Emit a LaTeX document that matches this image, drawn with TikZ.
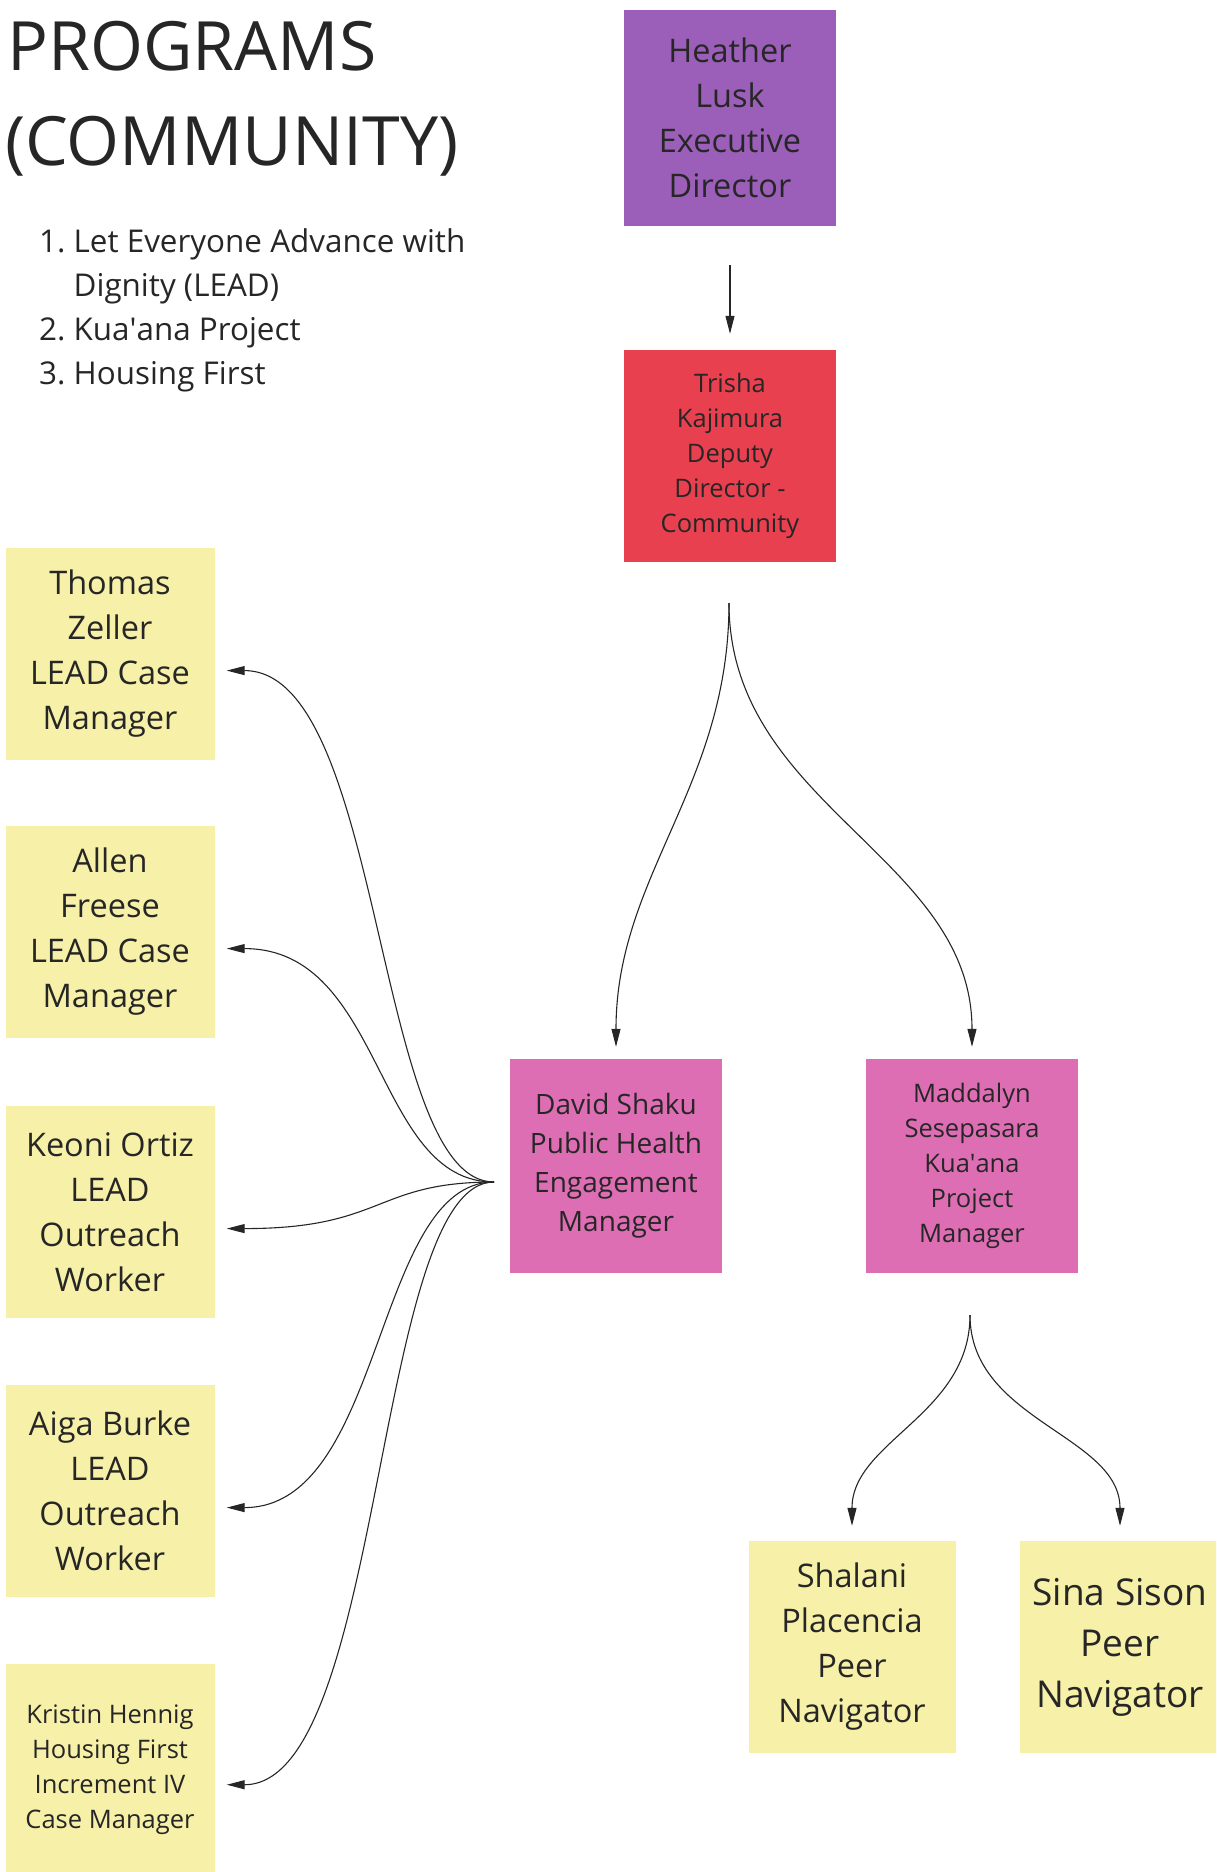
\documentclass[tikz,border=0pt]{standalone}
\usepackage{fontspec}
\setmainfont{Open Sans}
\usetikzlibrary{arrows.meta}
\definecolor{ink}{HTML}{262626}
\definecolor{execpurple}{HTML}{9B5FB9}
\definecolor{deputyred}{HTML}{E8404F}
\definecolor{mgrpink}{HTML}{DD6EB4}
\definecolor{staffyellow}{HTML}{F7F0A8}
\tikzset{
  card/.style={minimum width=212pt,minimum height=212pt,inner sep=0pt,align=center,text=ink},
  txtbig/.style={font=\fontsize{32.5}{45}\selectfont},
  txtmid/.style={font=\fontsize{28}{39}\selectfont},
  txtsmall/.style={font=\fontsize{25.5}{35}\selectfont},
  txthuge/.style={font=\fontsize{37}{51}\selectfont},
  link/.style={-{Triangle[length=18pt,width=9pt]},line width=1.1pt,draw=ink,shorten >=12pt},
}
\begin{document}
\begin{tikzpicture}[x=1pt,y=-1pt]
\useasboundingbox (0,0) rectangle (1216,1872);
\clip (0,0) rectangle (1216,1872);

% heading and programme list
\node[anchor=base west,inner sep=0pt,text=ink,font=\fontsize{68}{90}\selectfont] (title) at (7,70) {PROGRAMS};
\node[anchor=base west,inner sep=0pt,text=ink,font=\fontsize{68}{90}\selectfont] (subtitle) at (5,165) {(COMMUNITY)};
\node[anchor=base west,inner sep=0pt,text=ink,font=\fontsize{31.4}{44}\selectfont] (programs) at (39,252) {\begin{tabular}[t]{@{}r@{\ }l@{}}1. & Let Everyone Advance with\\ & Dignity (LEAD)\\ 2. & Kua\textquotesingle ana Project\\ 3. & Housing First\end{tabular}};

% directors and managers
\node[card,fill=execpurple,txtbig,minimum height=216pt] (heather) at (730,118) {Heather\\Lusk\\Executive\\Director};
\node[card,fill=deputyred,txtsmall] (trisha) at (730,456) {Trisha\\Kajimura\\Deputy\\Director -\\Community};
\node[card,fill=mgrpink,txtmid,minimum height=214pt] (david) at (616,1166) {David Shaku\\Public Health\\Engagement\\Manager};
\node[card,fill=mgrpink,txtsmall,minimum height=214pt] (maddalyn) at (972,1166) {Maddalyn\\Sesepasara\\Kua\textquotesingle ana\\Project\\Manager};

% staff
\node[card,fill=staffyellow,txtbig,minimum width=209pt] (thomas) at (110,654) {Thomas\\Zeller\\LEAD Case\\Manager};
\node[card,fill=staffyellow,txtbig,minimum width=209pt] (allen) at (110,932) {Allen\\Freese\\LEAD Case\\Manager};
\node[card,fill=staffyellow,txtbig,minimum width=209pt] (keoni) at (110,1212) {Keoni Ortiz\\LEAD\\Outreach\\Worker};
\node[card,fill=staffyellow,txtbig,minimum width=209pt] (aiga) at (110,1491) {Aiga Burke\\LEAD\\Outreach\\Worker};
\node[card,fill=staffyellow,txtsmall,minimum width=209pt] (kristin) at (110,1770) {Kristin Hennig\\Housing First\\Increment IV\\Case Manager};
\node[card,fill=staffyellow,txtbig,minimum width=207pt] (shalani) at (852,1647) {Shalani\\Placencia\\Peer\\Navigator};
\node[card,fill=staffyellow,txthuge,minimum width=200pt] (sina) at (1120,1647) {Sina Sison\\Peer\\Navigator};

% branch points
\coordinate (trishaout) at (729,603);
\coordinate (davidout) at (494,1182);
\coordinate (maddout) at (970,1315);

\draw[link,shorten <=39pt,shorten >=16pt] (heather) -- (trisha);
\draw[link] (trishaout) to[out=-90,in=90] (david.north);
\draw[link] (trishaout) to[out=-90,in=90] (maddalyn.north);
\draw[link] (davidout) .. controls +(-120,0) and +(170,0) .. (thomas.-9);
\draw[link] (davidout) .. controls +(-120,0) and +(170,0) .. (allen.-9);
\draw[link] (davidout) .. controls +(-120,0) and +(170,0) .. (keoni.-9);
\draw[link] (davidout) .. controls +(-120,0) and +(170,0) .. (aiga.-9);
\draw[link] (davidout) .. controls +(-120,0) and +(170,0) .. (kristin.-8);
\draw[link,shorten >=15pt] (maddout) to[out=-90,in=90] (shalani.north);
\draw[link,shorten >=15pt] (maddout) to[out=-90,in=90] (sina.north);
\end{tikzpicture}
\end{document}
